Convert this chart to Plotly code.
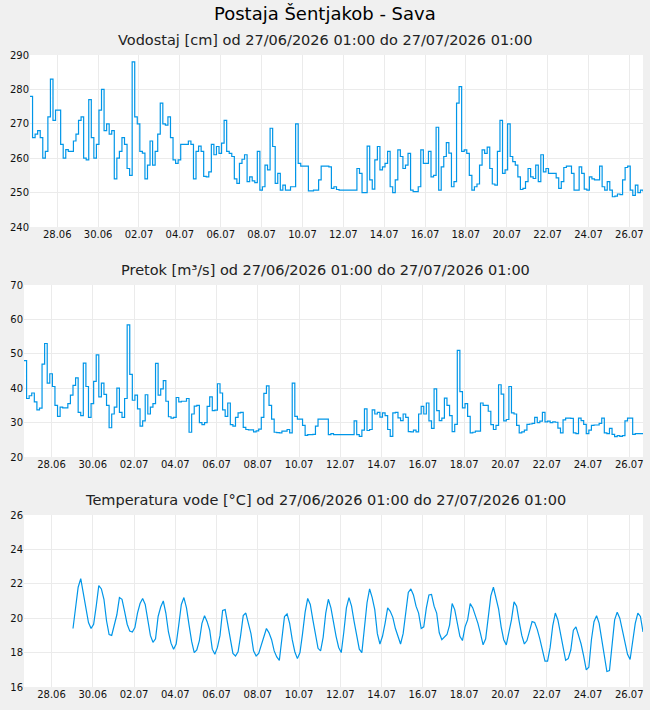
import pandas as pd
import plotly.graph_objects as go

start = "2026-06-27 01:00"
n_points = 241
times = pd.date_range(start, periods=n_points, freq="3h")

vodostaj = [
    278, 266, 267, 268, 266, 260, 262, 272, 283, 271, 274, 274, 264, 260, 262.5, 262,
    262, 265, 267, 271, 272, 260, 259.5, 277, 266, 260, 264, 274, 280, 268, 270, 267,
    268, 254, 260, 262, 266, 264, 257, 255, 288, 272, 270, 262, 261.5, 254, 258, 265,
    258, 262, 267, 276, 270, 269.6, 272, 266, 259.5, 258.5, 259.5, 264, 264, 264, 265, 264,
    254, 262, 263.5, 262, 254.7, 254.6, 256, 264, 261, 263.4, 261.4, 264.4, 271, 262, 261.4, 260.5,
    254, 252.7, 258.5, 259.7, 261, 253.2, 254.6, 253.4, 252.9, 262, 250.7, 251.7, 258, 256.6, 268.7, 263.4,
    252.7, 255.6, 250.7, 252.2, 250.7, 250.7, 251.7, 251.7, 270, 258.5, 257.7, 257.7, 257.7, 250.5, 250.5, 250.7,
    250.7, 253.7, 257.7, 257.7, 257.7, 257.5, 251.2, 251.7, 250.9, 250.7, 250.7, 250.7, 250.7, 250.7, 250.7, 250.7,
    257, 255.6, 250, 250, 263.5, 253.7, 251, 259.5, 263.4, 256.6, 257.5, 258.5, 262, 251.7, 250, 253.7,
    262.4, 260.5, 257, 258, 261.4, 250.7, 250.3, 250.3, 251.7, 262.4, 258.5, 258.5, 262, 254.6, 255, 269,
    250.7, 257.5, 260.5, 264.5, 261.5, 251.7, 253.2, 276, 280.8, 262, 262.4, 261.4, 255, 250.7, 251.7, 252.5,
    258, 262.4, 261.4, 263.2, 257, 252.5, 252.2, 262, 271, 255.6, 256.6, 270, 260.5, 259, 258, 254.6,
    250.9, 251.2, 253.2, 257, 254.6, 254.1, 258, 253.2, 261, 256, 257, 255.6, 255.6, 255.6, 254.3, 251.2,
    253.2, 257.3, 257.7, 257.7, 255.6, 250.7, 250.7, 257.5, 255.6, 251, 250.7, 254.6, 254, 253.7, 253.7, 257.7,
    251.7, 250.7, 253.2, 250.7, 248.8, 249, 249.6, 249.4, 253.7, 257.3, 257.7, 250.7, 249.2, 252.2, 250, 250.7,
    250.3,
]

pretok = [
    48, 37, 37.8, 38.6, 36, 33.7, 34.2, 47, 53, 41.5, 44.2, 40.5, 35, 31.8, 34.5, 34.3,
    34.3, 35.5, 38, 40.8, 43, 33, 32, 47.3, 40.5, 31.5, 35.5, 42, 49.7, 37.5, 41.5, 38.2,
    35, 28.5, 32.5, 34.5, 40, 33, 31.5, 37, 58.4, 44, 36.5, 38, 34, 29, 30.5, 38.1,
    32.5, 34.5, 35.5, 47.2, 38, 39.8, 42.2, 36.2, 31.7, 31.3, 31.5, 37.3, 36, 36.2, 36.2, 37,
    27.2, 32.5, 34.8, 35, 30, 29.4, 30, 34.7, 37.5, 33.5, 33.6, 41.3, 38.6, 33.7, 31.8, 35.7,
    29.4, 29, 31.5, 32.8, 33, 28.6, 28, 27.9, 27.9, 27.3, 27.6, 28.1, 31.5, 38.5, 40.7, 35,
    31, 27.2, 27.1, 27, 27.5, 27.5, 28, 27, 41.5, 31.8, 31, 31, 29.2, 26.3, 26.5, 26.5,
    26.6, 29, 31, 31, 31, 31, 26.5, 26.8, 26.5, 26.5, 26.5, 26.5, 26.5, 26.5, 26.5, 26.5,
    30.5, 26.5, 26, 27.8, 34, 27.7, 28, 33.7, 32.5, 33, 31.6, 32.8, 32, 28, 26, 32.8,
    33, 31.4, 30.6, 32.5, 31.5, 27.4, 27.3, 27.8, 27.3, 32.5, 34.7, 32.5, 35.7, 30.5, 28.3, 39.8,
    33.5, 30.6, 31.3, 37.1, 35, 32, 27.4, 29.5, 51, 39, 34.3, 35.5, 31.8, 27, 27.2, 27.5,
    27.5, 35.7, 35, 35, 33.3, 29.4, 28, 29.2, 41, 38.3, 30.5, 30.9, 40.5, 32.8, 32.5, 29.2,
    27, 27.3, 27.8, 29.5, 29.6, 29.8, 31.5, 30, 30.4, 33, 30.2, 30.4, 30, 30.2, 30.1, 28.4,
    27, 30.8, 31.3, 31.3, 31.2, 27, 26.8, 31.3, 30.6, 29.5, 26.8, 27.8, 29.2, 29.3, 29.3, 29.8,
    31.3, 27, 26.8, 28.3, 26.6, 25.9, 26.2, 26, 26.2, 30.5, 31.3, 31.3, 26.6, 26.8, 26.8, 26.8,
    26.6,
]

temperatura = [None] * 19 + [
    19.4, 20.6, 21.8, 22.3, 21.4, 20.75, 19.75, 19.4,
    19.65, 20.7, 21.9, 21.7, 21.1, 19.85, 19.05, 19.0,
    19.55, 20.2, 21.2, 21.1, 20.4, 19.65, 19.25, 19.2,
    19.45, 20.3, 20.85, 21.15, 20.8, 20.0, 19.0, 18.6,
    18.8, 20.1, 20.65, 21.0, 20.3, 19.2, 18.55, 18.2,
    18.5, 19.6, 20.8, 21.2, 20.6, 19.6, 18.65, 18.0,
    18.15, 18.7, 19.7, 20.15, 19.8, 19.3, 18.2, 17.9,
    18.3, 19.0, 20.45, 20.5, 19.7, 18.75, 17.95, 17.8,
    18.05, 19.0, 20.15, 20.3, 19.75, 19.1, 18.1, 17.8,
    17.95, 18.4, 18.95, 19.4, 19.15, 18.75, 18.1, 17.75,
    17.55, 19.0, 20.1, 20.25, 19.7, 18.75, 18.05, 17.65,
    18.0, 19.1, 20.35, 21.15, 20.8, 19.9, 18.95, 18.25,
    18.1, 18.9, 20.3, 21.1, 20.6, 19.7, 18.95, 18.3,
    18.0, 19.2, 20.6, 21.2, 20.7, 19.8, 19.0, 18.2,
    18.0, 19.3, 20.9, 21.7, 21.2, 20.5, 19.1, 18.5,
    18.95, 19.7, 20.6, 20.4, 20.05, 19.4, 18.9, 18.5,
    19.1, 20.3, 21.5, 21.7, 21.35, 20.7, 20.3, 19.4,
    19.5, 20.6, 21.35, 21.38, 20.7, 20.3, 19.15, 18.75,
    18.9, 19.05, 19.6, 20.85, 20.5, 19.7, 18.95, 18.7,
    19.5, 19.9, 20.85, 20.6, 20.2, 19.7, 19.1, 18.45,
    18.8, 19.9, 21.3, 21.8, 21.1, 20.55, 19.5, 18.75,
    18.45, 19.1, 19.9, 20.95, 20.7, 19.8, 19.0, 18.5,
    18.7, 19.25, 19.8, 19.75, 19.35, 18.8, 18.1, 17.5,
    17.5, 18.3, 19.55, 20.3, 19.9, 19.1, 18.25, 17.55,
    17.65, 18.15, 19.3, 19.5, 19.0, 18.5, 17.8, 17.0,
    17.15, 18.75, 19.8, 20.15, 19.7, 18.75, 17.7, 16.9,
    16.95, 18.3, 19.9, 20.35, 20.0, 19.3, 18.55, 17.9,
    17.6, 18.6, 19.7, 20.3, 20.1, 19.2,
]

tick_labels = ["28.06", "30.06", "02.07", "04.07", "06.07", "08.07", "10.07", "12.07",
               "14.07", "16.07", "18.07", "20.07", "22.07", "24.07", "26.07"]
tick_pos = [pd.Timestamp(f"2026-{t[3:5]}-{t[0:2]} 09:00") for t in tick_labels]

main_title = "Postaja Šentjakob - Sava"
sub_titles = [
    "Vodostaj [cm] od 27/06/2026 01:00 do 27/07/2026 01:00",
    "Pretok [m³/s] od 27/06/2026 01:00 do 27/07/2026 01:00",
    "Temperatura vode [°C] od 27/06/2026 01:00 do 27/07/2026 01:00",
]
y_ranges = [[240, 290], [20, 70], [16, 26]]
y_dticks = [10, 10, 2]
line_shapes = ["hv", "hv", "linear"]

LINE = "#0096e8"
GRID = "#ebebeb"
FONT = "DejaVu Sans"
W, H = 650, 710

fig = go.Figure()
series = [vodostaj, pretok, temperatura]
for i, s in enumerate(series):
    suf = "" if i == 0 else str(i + 1)
    fig.add_trace(go.Scatter(
        x=times, y=s, xaxis="x" + suf, yaxis="y" + suf, mode="lines",
        line=dict(color=LINE, width=1.2, shape=line_shapes[i]), connectgaps=False,
        hoverinfo="skip", showlegend=False,
    ))

# plot-area pixel boxes (left, right, top, bottom)
boxes = [(30, 643, 55, 227), (24, 643, 285, 457), (24, 643, 515, 687)]
title_y = [40, 270, 500]

layout = dict(
    width=W, height=H, margin=dict(l=0, r=0, t=0, b=0),
    paper_bgcolor="#f0f0f0", plot_bgcolor="#ffffff",
    font=dict(family=FONT, size=10, color="#111"),
    showlegend=False,
)
annotations = [dict(text=main_title, x=0.5, y=1 - 14 / H, xref="paper", yref="paper",
                    xanchor="center", yanchor="middle", showarrow=False,
                    font=dict(family=FONT, size=18, color="#000"))]
for i, (l, r, t, b) in enumerate(boxes):
    suf = "" if i == 0 else str(i + 1)
    layout["xaxis" + suf] = dict(
        domain=[l / W, r / W], anchor="y" + suf, type="date",
        range=[times[0], times[-1]], tickmode="array", tickvals=tick_pos, ticktext=tick_labels,
        showgrid=True, gridcolor=GRID, gridwidth=1, zeroline=False, showline=False,
        ticks="", tickfont=dict(family=FONT, size=10, color="#111"),
        fixedrange=True, automargin=False,
    )
    layout["yaxis" + suf] = dict(
        domain=[1 - b / H, 1 - t / H], anchor="x" + suf, range=y_ranges[i],
        dtick=y_dticks[i], tick0=y_ranges[i][0],
        showgrid=True, gridcolor=GRID, gridwidth=1, zeroline=False, showline=False,
        ticks="", tickfont=dict(family=FONT, size=10, color="#111"),
        fixedrange=True, automargin=False,
    )
    annotations.append(dict(text=sub_titles[i], x=0.5, y=1 - title_y[i] / H,
                            xref="paper", yref="paper", xanchor="center", yanchor="middle",
                            showarrow=False, font=dict(family=FONT, size=14.5, color="#222")))
layout["annotations"] = annotations
fig.update_layout(**layout)
fig.write_html("out.html")
